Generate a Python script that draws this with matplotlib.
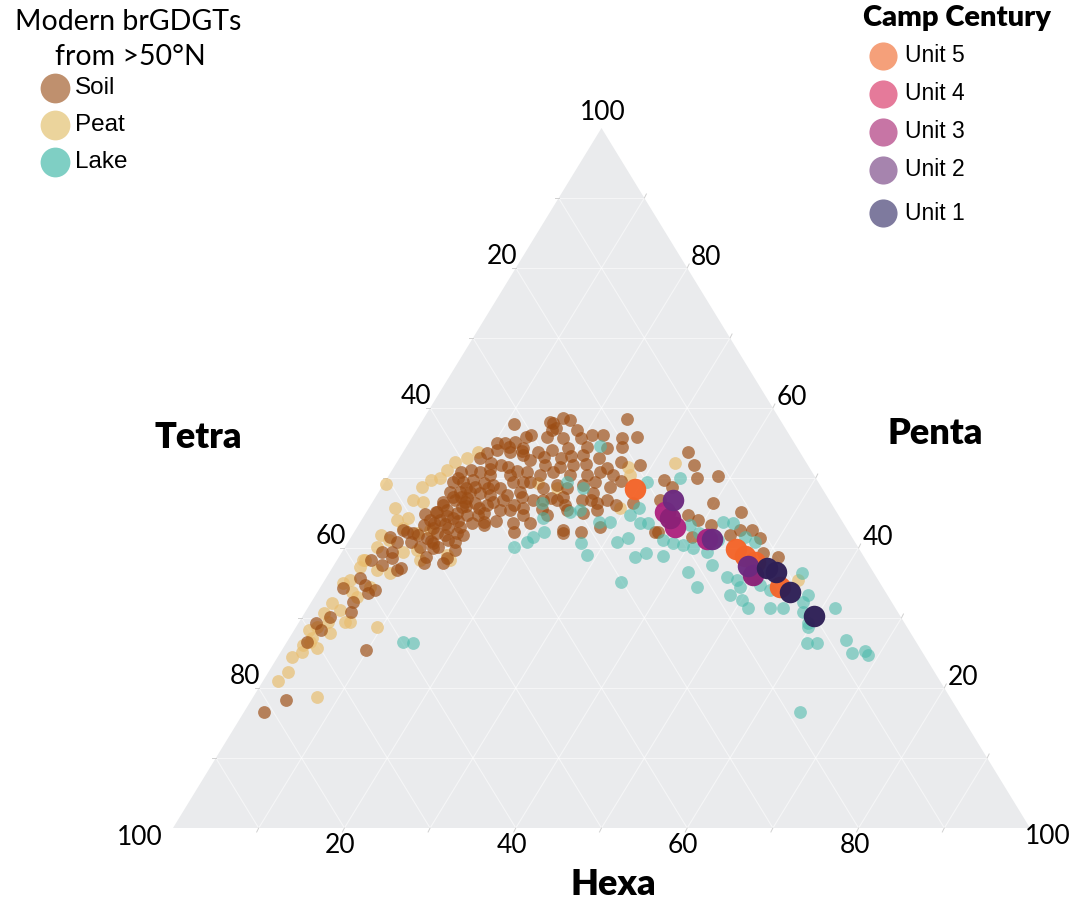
import numpy as np
import matplotlib
matplotlib.use("Agg")
import matplotlib.pyplot as plt
from matplotlib.patches import Polygon

# brGDGT fractional abundances (%), hexa and penta; tetra = 100 - hexa - penta
soil_hexa = [5.7, 4.7, 3.9, 5.6, 6.3, 4.0, 5.1, 2.7, 6.6, 7.7,
             4.9, 5.3, 3.3, 2.0, 3.1, 2.3, 9.8, 4.0, 2.3, 6.0,
             10.3, 12.6, 10.2, 12.7, 5.5, 6.9, 8.0, 8.1, 8.5, 8.9,
             10.0, 10.9, 11.5, 8.8, 4.5, 10.9, 11.2, 12.4, 13.2, 10.8,
             12.5, 14.2, 9.8, 9.4, 11.0, 12.3, 13.3, 8.1, 9.2, 10.4,
             11.8, 8.0, 9.1, 10.2, 11.6, 12.8, 8.3, 9.5, 10.7, 11.9,
             13.2, 8.2, 9.5, 10.8, 12.0, 13.6, 8.3, 9.3, 10.6, 12.0,
             13.2, 9.2, 7.6, 8.9, 10.6, 12.0, 13.1, 14.4, 6.2, 7.6,
             7.3, 10.3, 12.1, 12.5, 8.0, 5.9, 13.9, 15.2, 16.7, 15.5,
             14.0, 18.6, 16.1, 18.0, 14.1, 13.1, 12.9, 14.6, 15.0, 16.6,
             17.1, 18.5, 17.9, 19.9, 21.3, 19.7, 21.4, 23.3, 24.2, 26.4,
             25.3, 26.8, 25.3, 27.2, 15.0, 16.2, 17.2, 18.7, 16.1, 13.7,
             10.3, 15.4, 23.8, 15.8, 15.7, 17.7, 19.7, 22.1, 24.6, 26.2,
             13.7, 15.7, 17.2, 18.9, 21.1, 23.5, 25.2, 15.4, 17.5, 18.8,
             20.7, 21.2, 23.2, 26.1, 28.6, 15.9, 17.6, 18.9, 21.1, 23.1,
             24.4, 24.9, 26.1, 17.0, 18.9, 20.3, 21.7, 23.3, 24.5, 26.7,
             18.6, 20.5, 21.9, 24.3, 25.0, 26.3, 28.6, 30.5, 28.3, 24.4,
             35.4, 33.2, 34.8, 38.4, 36.1, 32.4, 33.9, 33.4, 37.7, 39.3,
             39.8, 41.1, 43.7, 35.1, 39.8, 44.1, 44.9, 46.3, 47.8, 49.2,
             51.3, 8.3, 9.9, 10.9, 10.8, 12.8, 10.8, 10.5, 10.8, 9.8,
             9.0, 10.0, 11.2, 9.7, 11.4, 10.0, 8.6, 9.6, 7.0, 12.4,
             11.3, 13.8, 12.0, 14.6, 15.0, 16.5, 13.8, 15.8, 20.3, 22.6,
             19.4, 16.8, 19.8, 22.2, 20.8, 27.5]
soil_penta = [40.9, 39.4, 38.3, 37.6, 38.6, 35.7, 34.7, 34.3, 34.0, 36.9,
              32.3, 30.9, 30.1, 29.3, 28.3, 26.6, 25.4, 18.3, 16.6, 33.6,
              37.9, 37.9, 38.7, 38.6, 42.6, 42.1, 44.0, 45.1, 46.1, 41.4,
              40.7, 40.1, 41.1, 40.1, 41.6, 57.7, 55.0, 55.1, 55.9, 54.0,
              53.7, 53.3, 53.6, 52.9, 52.1, 51.9, 51.6, 50.9, 51.1, 50.9,
              50.4, 49.4, 49.4, 49.7, 49.3, 49.0, 48.0, 48.0, 48.0, 47.9,
              47.6, 46.6, 46.9, 46.6, 46.4, 46.1, 45.1, 45.4, 45.0, 44.7,
              44.7, 44.0, 43.3, 42.9, 42.9, 43.0, 43.6, 43.7, 42.3, 41.9,
              40.9, 40.0, 42.1, 40.9, 37.1, 39.4, 48.6, 47.6, 46.1, 45.4,
              46.6, 42.3, 49.4, 45.7, 50.4, 39.7, 41.9, 43.3, 46.9, 45.4,
              47.3, 44.7, 43.6, 43.6, 44.7, 46.9, 46.9, 45.4, 42.6, 42.3,
              45.0, 45.4, 46.9, 46.9, 58.0, 58.6, 58.3, 56.9, 57.1, 56.1,
              55.0, 57.9, 58.4, 56.9, 55.9, 55.7, 55.7, 56.1, 55.7, 55.9,
              54.3, 53.7, 54.0, 54.3, 54.4, 54.3, 54.4, 52.6, 51.9, 52.9,
              51.9, 53.3, 52.9, 52.3, 51.9, 50.9, 50.4, 50.9, 50.4, 50.4,
              50.9, 51.4, 50.4, 49.4, 48.6, 49.0, 48.6, 49.0, 49.4, 48.7,
              46.9, 47.1, 47.3, 46.9, 47.9, 46.4, 46.1, 46.4, 43.0, 42.1,
              42.3, 53.7, 51.9, 50.3, 50.0, 49.7, 48.7, 46.9, 44.7, 44.0,
              46.4, 43.3, 45.1, 42.3, 41.6, 41.9, 42.6, 42.6, 41.4, 39.3,
              38.7, 50.0, 48.6, 48.7, 47.1, 45.7, 45.9, 44.3, 41.9, 42.1,
              47.3, 47.3, 46.0, 44.6, 43.8, 43.5, 43.6, 41.0, 44.8, 48.6,
              51.3, 53.8, 54.4, 51.0, 49.4, 48.0, 45.0, 43.8, 45.6, 46.2,
              51.6, 53.0, 53.2, 52.0, 56.2, 49.6]

peat_hexa = [0.3, 3.0, 4.5, 5.9, 5.3, 6.4, 7.9, 8.7, 5.3, 4.1,
             5.4, 3.3, 3.7, 4.7, 7.4, 8.7, 3.3, 3.2, 5.4, 7.1,
             8.6, 12.5, 13.2, 2.3, 4.0, 5.8, 2.5, 3.9, 2.3, 3.4,
             2.4, 4.4, 5.4, 2.7, 4.0, 2.5, 9.4, 1.7, 2.3, 1.8,
             7.4, 9.7, 4.7, 27.3, 28.1, 20.5, 17.9, 32.5, 55.2, 29.3,
             3.0, 5.0, 6.0, 1.7, 2.7, 2.1, 7.1, 3.0, 6.2, 6.8]
peat_penta = [49.1, 45.7, 46.9, 46.6, 49.7, 51.1, 52.9, 53.7, 44.3, 44.0,
              42.9, 41.9, 40.1, 41.1, 42.1, 42.6, 38.3, 37.3, 36.9, 39.4,
              39.7, 39.0, 38.3, 35.0, 33.7, 34.4, 32.1, 31.1, 30.7, 29.4,
              28.7, 27.9, 29.4, 26.6, 25.7, 25.1, 28.7, 24.4, 22.3, 21.0,
              18.7, 38.3, 48.7, 51.6, 50.4, 48.6, 49.3, 52.1, 35.4, 45.7,
              35.4, 33.0, 29.4, 28.3, 27.1, 26.1, 36.4, 38.3, 50.0, 52.3]

lake_hexa = [13.5, 14.8, 22.5, 19.9, 21.3, 23.5, 24.8, 27.8, 29.2, 27.2,
             28.8, 19.7, 20.9, 21.2, 22.1, 30.6, 31.0, 31.5, 23.8, 21.0,
             31.4, 32.4, 32.7, 33.6, 34.6, 35.5, 34.7, 34.2, 38.7, 42.3,
             43.5, 36.6, 38.0, 39.3, 40.7, 40.3, 41.2, 43.0, 45.9, 37.7,
             42.6, 44.1, 41.8, 46.7, 43.9, 48.4, 50.1, 48.1, 49.0, 47.5,
             55.2, 57.4, 57.4, 51.4, 54.0, 55.5, 58.1, 61.5, 59.4, 59.8,
             60.8, 61.9, 65.1, 66.7, 68.1, 68.8, 64.9, 51.2, 49.8, 52.7]
lake_penta = [26.6, 26.4, 54.6, 46.4, 49.4, 48.6, 45.4, 43.7, 43.7, 40.7,
              39.0, 40.1, 40.9, 41.6, 42.3, 49.4, 44.7, 45.7, 45.1, 44.3,
              40.9, 41.4, 43.6, 43.6, 38.7, 39.3, 35.1, 50.0, 43.3, 43.7,
              43.6, 41.1, 40.7, 40.4, 40.0, 42.1, 41.9, 41.1, 41.6, 38.9,
              39.4, 37.6, 36.6, 35.9, 34.4, 33.3, 32.6, 35.4, 34.4, 40.9,
              36.4, 33.3, 32.3, 31.4, 31.4, 31.4, 30.9, 31.4, 29.3, 28.7,
              26.4, 26.4, 26.9, 25.0, 25.3, 24.7, 16.6, 34.7, 35.7, 34.0]

# Camp Century core units
unit_names = ["Unit 5", "Unit 4", "Unit 3", "Unit 2", "Unit 1"]
unit_hexa = [[29.7, 45.7, 47.3, 48.9, 53.6],
             [34.9, 37.1, 41.7],
             [35.9, 49.6],
             [34.9, 42.3, 48.4],
             [50.8, 52.1, 55.1, 59.7]]
unit_penta = [[48.4, 39.9, 38.9, 38.0, 34.4],
              [45.1, 43.0, 41.3],
              [44.3, 36.1],
              [46.9, 41.3, 37.4],
              [37.1, 36.6, 33.7, 30.3]]
unit_colors = ["#F4652A", "#AE2380", "#8C2177", "#6C2A80", "#2E1F56"]
unit_legend_colors = ["#F5A07A", "#E57A9A", "#C775A5", "#A684AE", "#7E7A9E"]

ticks = [20, 40, 60, 80]

# triangle corners in figure pixels: Tetra 100, Hexa 100, Penta 100
BL = np.array([173.0, 828.0])
BR = np.array([1030.0, 828.0])
TOP = np.array([601.5, 128.0])


def tern(hexa, penta):
    h = np.asarray(hexa, dtype=float) / 100.0
    p = np.asarray(penta, dtype=float) / 100.0
    x = BL[0] + h * (BR[0] - BL[0]) + p * (TOP[0] - BL[0])
    y = BL[1] + h * (BR[1] - BL[1]) + p * (TOP[1] - BL[1])
    return x, y


fig = plt.figure(figsize=(10.71, 9.05), dpi=100)
ax = fig.add_axes([0, 0, 1, 1])
ax.set_xlim(0, 1071)
ax.set_ylim(905, 0)
ax.axis("off")

ax.add_patch(Polygon([BL, BR, TOP], closed=True, facecolor="#EAEBED",
                     edgecolor="none", zorder=0))

# grid every 10 %
for k in range(10, 100, 10):
    segs = [((0, k), (100 - k, k)),        # constant penta
            ((k, 0), (k, 100 - k)),        # constant hexa
            ((100 - k, 0), (0, 100 - k))]  # constant tetra
    for (h0, p0), (h1, p1) in segs:
        x, y = tern([h0, h1], [p0, p1])
        ax.plot(x, y, color="white", lw=0.8, alpha=0.55, zorder=1)

# faint tick marks outside the edges
for k in range(10, 100, 10):
    x, y = tern([k, k], [0, 0])
    ax.plot([x[0], x[0] - 2], [y[0], y[0] + 4], color="#D0D0D0", lw=0.7, zorder=1)
    x, y = tern([0, 0], [k, k])
    ax.plot([x[0], x[0] - 4], [y[0], y[0]], color="#D0D0D0", lw=0.7, zorder=1)
    x, y = tern([100 - k, 100 - k], [k, k])
    ax.plot([x[0], x[0] + 2], [y[0], y[0] - 4], color="#D0D0D0", lw=0.7, zorder=1)

tick_font = ["Lato"]
for t in ticks:
    x, y = tern([t], [0])
    ax.text(x[0] - 4, y[0] + 17, str(t), fontsize=19, family=tick_font,
            ha="center", va="center")
    # tetra along the left edge
    x, y = tern([0], [100 - t])
    ax.text(x[0] - 14, y[0] - 12, str(t), fontsize=19, family=tick_font,
            ha="center", va="center")
    # penta along the right edge
    x, y = tern([100 - t], [t])
    ax.text(x[0] + 19, y[0] - 11, str(t), fontsize=19, family=tick_font,
            ha="center", va="center")
ax.text(TOP[0] + 1, TOP[1] - 15, "100", fontsize=19, family=tick_font, ha="center", va="center")
ax.text(BL[0] - 33, BL[1] + 9, "100", fontsize=19, family=tick_font, ha="center", va="center")
ax.text(BR[0] + 18, BR[1] + 8, "100", fontsize=19, family=tick_font, ha="center", va="center")

title_font = ["Lato"]
ax.text(198, 437, "Tetra", fontsize=26, fontweight="heavy", family=title_font,
        ha="center", va="center")
ax.text(935, 433, "Penta", fontsize=26, fontweight="heavy", family=title_font,
        ha="center", va="center")
ax.text(613, 884, "Hexa", fontsize=26, fontweight="heavy", family=title_font,
        ha="center", va="center")

small = 85
x, y = tern(peat_hexa, peat_penta)
ax.scatter(x, y, s=small, color="#E8BE70", alpha=0.7, lw=0, zorder=3)
x, y = tern(soil_hexa, soil_penta)
ax.scatter(x, y, s=small, color="#9C4D14", alpha=0.68, lw=0, zorder=4)
x, y = tern(lake_hexa, lake_penta)
ax.scatter(x, y, s=small, color="#4CBAAB", alpha=0.58, lw=0, zorder=5)

for i in range(len(unit_names)):
    x, y = tern(unit_hexa[i], unit_penta[i])
    ax.scatter(x, y, s=240, color=unit_colors[i], alpha=0.97, lw=0, zorder=6 + i)

# legends
ax.text(128, 22, "Modern brGDGTs", fontsize=20.5, family=title_font,
        ha="center", va="center")
ax.text(130, 57, "from >50°N", fontsize=20.5, family=title_font,
        ha="center", va="center")
left_labels = ["Soil", "Peat", "Lake"]
left_colors = ["#BF906E", "#EBD49C", "#7FCFC4"]
left_y = [88, 125, 162]
for lab, c, yy in zip(left_labels, left_colors, left_y):
    ax.scatter([55], [yy], s=460, color=c, lw=0)
    ax.text(75, yy, lab, fontsize=17.5, family="Liberation Sans", ha="left", va="center")

ax.text(957, 18, "Camp Century", fontsize=21, fontweight="heavy", family=title_font,
        ha="center", va="center")
right_y = [56, 94, 132, 170, 213]
for lab, c, yy in zip(unit_names, unit_legend_colors, right_y):
    ax.scatter([883], [yy], s=410, color=c, lw=0)
    ax.text(905, yy, lab, fontsize=16.5, family="Liberation Sans", ha="left", va="center")

fig.savefig("out.png", dpi=100)
